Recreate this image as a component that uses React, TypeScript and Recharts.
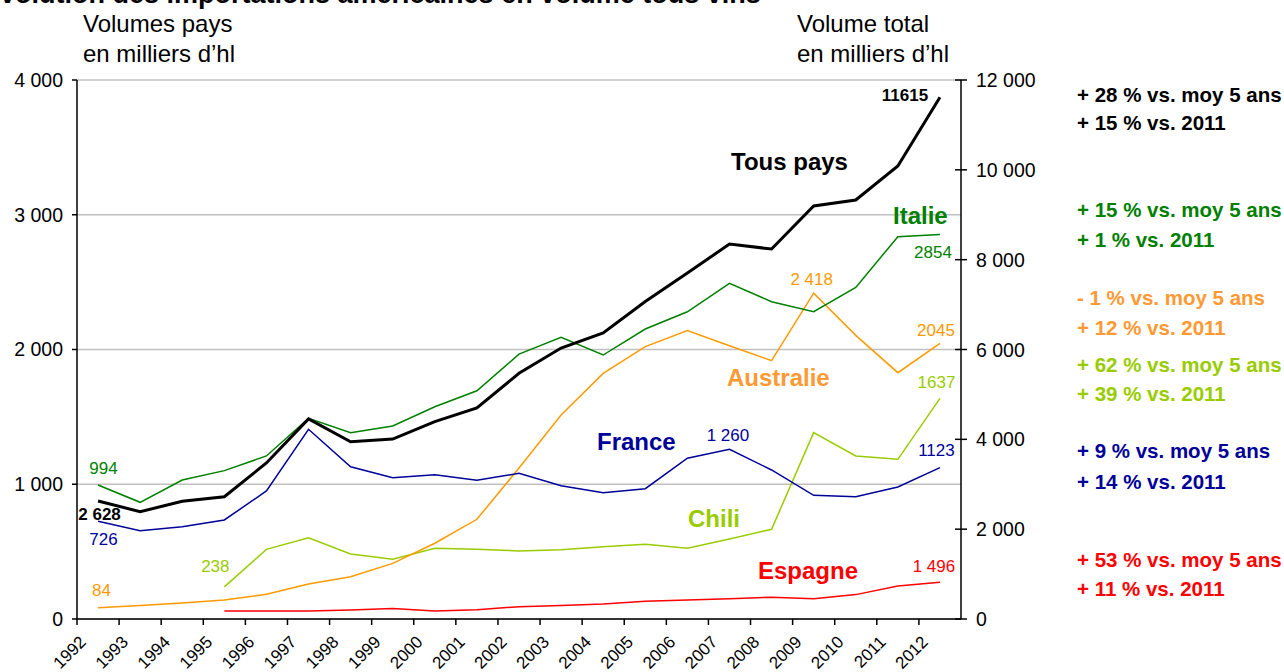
import React from 'react';
import { LineChart, Line, XAxis, YAxis, CartesianGrid } from 'recharts';

const years = [
  '1992', '1993', '1994', '1995', '1996', '1997', '1998', '1999', '2000', '2001', '2002',
  '2003', '2004', '2005', '2006', '2007', '2008', '2009', '2010', '2011', '2012',
];

// volume total (axe droit), milliers d'hl
const tousPays = [2628, 2389, 2620, 2723, 3473, 4453, 3947, 4007, 4393, 4697, 5470, 6033, 6367, 7070, 7703, 8348, 8237, 9194, 9328, 10085, 11615];
// volumes pays (axe gauche)
const italie = [994, 866, 1031, 1101, 1210, 1489, 1383, 1432, 1575, 1694, 1966, 2090, 1959, 2152, 2280, 2491, 2355, 2280, 2461, 2837, 2854];
const australie = [84, 101, 119, 141, 183, 260, 314, 413, 562, 740, 1120, 1514, 1823, 2021, 2140, 2028, 1917, 2418, 2105, 1828, 2045];
const france = [726, 655, 685, 735, 950, 1408, 1130, 1049, 1071, 1029, 1081, 989, 937, 967, 1193, 1260, 1106, 918, 908, 980, 1123];
const chili = [null, null, null, 238, 517, 603, 482, 443, 525, 517, 505, 514, 537, 554, 525, 594, 666, 1383, 1210, 1185, 1637];
const espagne = [null, null, null, 59, 59, 59, 67, 77, 59, 69, 91, 101, 111, 131, 141, 151, 161, 151, 181, 245, 272];

const leftTicks = [0, 1000, 2000, 3000, 4000];
const rightTicks = [0, 2000, 4000, 6000, 8000, 10000, 12000];

const data = years.map((year, i) => ({
  year,
  tousPays: tousPays[i],
  italie: italie[i],
  australie: australie[i],
  france: france[i],
  chili: chili[i],
  espagne: espagne[i],
}));

const FONT = '"Liberation Sans", Arial, sans-serif';
const C = {
  black: '#000000',
  green: '#008000',
  orange: '#FF9900',
  orangeText: '#FF9933',
  lime: '#99CC00',
  navy: '#000099',
  red: '#FF0000',
};

const W = 1284;
const H = 672;
const MARGIN_RIGHT = 243;
const LEFT_W = 77;
const RIGHT_W = 80;
const BAND = (W - MARGIN_RIGHT - LEFT_W - RIGHT_W) / years.length;

const fmt = (v: number) => (v === 0 ? '0' : `${Math.floor(v / 1000)} ${String(v % 1000).padStart(3, '0')}`);

type Mark = { text: string; dx: number; dy: number; bold?: boolean; anchor?: string };

// labels aux points (index -> texte)
const tousPaysMarks: Record<number, Mark> = {
  0: { text: '2 628', dx: 1.5, dy: 19, bold: true },
  20: { text: '11615', dx: -35, dy: 4, bold: true },
};
const italieMarks: Record<number, Mark> = {
  0: { text: '994', dx: 5.5, dy: -11 },
  20: { text: '2854', dx: -7, dy: 24 },
};
const australieMarks: Record<number, Mark> = {
  0: { text: '84', dx: 3.5, dy: -12 },
  17: { text: '2 418', dx: -2, dy: -8 },
  20: { text: '2045', dx: -4, dy: -7 },
};
const franceMarks: Record<number, Mark> = {
  0: { text: '726', dx: 5.5, dy: 24 },
  15: { text: '1 260', dx: -1.5, dy: -8 },
  20: { text: '1123', dx: -3.5, dy: -12 },
};
const chiliMarks: Record<number, Mark> = {
  3: { text: '238', dx: -9, dy: -15 },
  20: { text: '1637', dx: -3.5, dy: -10 },
};
const espagneMarks: Record<number, Mark> = {
  20: { text: '1 496', dx: -6, dy: -10 },
};

const pointLabel = (color: string, marks: Record<number, Mark>) => (props: any) => {
  const { x, y, index } = props;
  const m = marks[index];
  if (!m || x == null || y == null) return <g key={`l-${index}`} />;
  return (
    <text
      key={`l-${index}`}
      x={x + m.dx}
      y={y + m.dy}
      fill={color}
      fontSize={17}
      fontFamily={FONT}
      fontWeight={m.bold ? 'bold' : 'normal'}
      textAnchor={m.anchor ?? 'middle'}
    >
      {m.text}
    </text>
  );
};

const YearTick = (props: any) => {
  const { x, y, payload } = props;
  const half = BAND / 2;
  const tx = x - 11;
  const ty = y + 18;
  return (
    <g>
      <line x1={x - half} x2={x - half} y1={y - 6} y2={y} stroke="#000" strokeWidth={1.5} />
      <text x={tx} y={ty} transform={`rotate(-45 ${tx} ${ty})`} textAnchor="end" fontSize={17} fontFamily={FONT} fill="#000">
        {payload.value}
      </text>
    </g>
  );
};

const RightTick = (props: any) => {
  const { x, y, payload } = props;
  const ax = x - 15;
  return (
    <g>
      <line x1={ax - 6} x2={ax + 6} y1={y} y2={y} stroke="#000" strokeWidth={1.5} />
      <text x={x} y={y} dy={7} fontSize={19.5} fontFamily={FONT} fill="#000">
        {fmt(payload.value)}
      </text>
    </g>
  );
};

const notes = [
  { text: '+ 28 % vs. moy 5 ans', y: 102, color: C.black },
  { text: '+ 15 % vs. 2011', y: 130, color: C.black },
  { text: '+ 15 % vs. moy 5 ans', y: 217, color: C.green },
  { text: '+ 1 % vs. 2011', y: 247, color: C.green },
  { text: '- 1 % vs. moy 5 ans', y: 305, color: C.orangeText },
  { text: '+ 12 % vs. 2011', y: 335, color: C.orangeText },
  { text: '+ 62 % vs. moy 5 ans', y: 372, color: C.lime },
  { text: '+ 39 % vs. 2011', y: 401, color: C.lime },
  { text: '+ 9 % vs. moy 5 ans', y: 458, color: C.navy },
  { text: '+ 14 % vs. 2011', y: 489, color: C.navy },
  { text: '+ 53 % vs. moy 5 ans', y: 567, color: C.red },
  { text: '+ 11 % vs. 2011', y: 596, color: C.red },
];

const seriesNames = [
  { text: 'Tous pays', x: 731, y: 170, color: C.black },
  { text: 'Italie', x: 893, y: 224, color: C.green },
  { text: 'Australie', x: 727, y: 386, color: C.orangeText },
  { text: 'France', x: 597, y: 450, color: C.navy },
  { text: 'Chili', x: 688, y: 527, color: C.lime },
  { text: 'Espagne', x: 758, y: 579, color: C.red },
];

export default function App() {
  return (
    <div style={{ position: 'absolute', left: 0, top: 0, width: W, height: H, background: '#fff', overflow: 'hidden' }}>
      <LineChart
        width={W}
        height={H}
        data={data}
        margin={{ top: 80, right: MARGIN_RIGHT, left: 0, bottom: 0 }}
        style={{ fontFamily: FONT }}
      >
        <CartesianGrid yAxisId="left" vertical={false} stroke="#c0c0c0" strokeWidth={1.5} />
        <XAxis
          dataKey="year"
          height={53}
          padding={{ left: BAND / 2, right: BAND / 2 }}
          tick={<YearTick />}
          tickLine={false}
          tickSize={6}
          tickMargin={0}
          interval={0}
          axisLine={{ stroke: '#000', strokeWidth: 1.5 }}
        />
        <YAxis
          yAxisId="left"
          width={LEFT_W}
          domain={[0, 4000]}
          ticks={leftTicks}
          tickFormatter={fmt}
          tickSize={5}
          tickMargin={9}
          tick={{ fill: '#000', fontSize: 19.5, fontFamily: FONT }}
          tickLine={{ stroke: '#000', strokeWidth: 1.5 }}
          axisLine={{ stroke: '#000', strokeWidth: 1.5 }}
        />
        <YAxis
          yAxisId="right"
          orientation="right"
          width={RIGHT_W}
          domain={[0, 12000]}
          ticks={rightTicks}
          tickSize={6}
          tickMargin={9}
          tick={<RightTick />}
          tickLine={false}
          axisLine={{ stroke: '#000', strokeWidth: 1.5 }}
        />
        <Line yAxisId="left" dataKey="espagne" stroke={C.red} strokeWidth={1.5} dot={false} activeDot={false} isAnimationActive={false} label={pointLabel(C.red, espagneMarks)} />
        <Line yAxisId="left" dataKey="chili" stroke={C.lime} strokeWidth={1.5} dot={false} activeDot={false} isAnimationActive={false} label={pointLabel(C.lime, chiliMarks)} />
        <Line yAxisId="left" dataKey="australie" stroke={C.orange} strokeWidth={1.5} dot={false} activeDot={false} isAnimationActive={false} label={pointLabel(C.orange, australieMarks)} />
        <Line yAxisId="left" dataKey="france" stroke={C.navy} strokeWidth={1.5} dot={false} activeDot={false} isAnimationActive={false} label={pointLabel(C.navy, franceMarks)} />
        <Line yAxisId="left" dataKey="italie" stroke={C.green} strokeWidth={1.5} dot={false} activeDot={false} isAnimationActive={false} label={pointLabel(C.green, italieMarks)} />
        <Line yAxisId="right" dataKey="tousPays" stroke={C.black} strokeWidth={3} dot={false} activeDot={false} isAnimationActive={false} label={pointLabel(C.black, tousPaysMarks)} />
      </LineChart>
      <svg
        width={W}
        height={H}
        style={{ position: 'absolute', left: 0, top: 0, pointerEvents: 'none', fontFamily: FONT }}
      >
        <text x={-18} y={3} fontSize={27} fontWeight="bold" fill="#000">
          Évolution des importations américaines en volume tous vins
        </text>
        <text x={83} y={32} fontSize={24} fill="#000">Volumes pays</text>
        <text x={83} y={62} fontSize={24} fill="#000">en milliers d’hl</text>
        <text x={797} y={32} fontSize={24} fill="#000">Volume total</text>
        <text x={797} y={62} fontSize={24} fill="#000">en milliers d’hl</text>
        {seriesNames.map((s) => (
          <text key={s.text} x={s.x} y={s.y} fontSize={24} fontWeight="bold" fill={s.color}>
            {s.text}
          </text>
        ))}
        {notes.map((n, i) => (
          <text key={i} x={1077} y={n.y} fontSize={20.5} fontWeight="bold" fill={n.color}>
            {n.text}
          </text>
        ))}
      </svg>
    </div>
  );
}
